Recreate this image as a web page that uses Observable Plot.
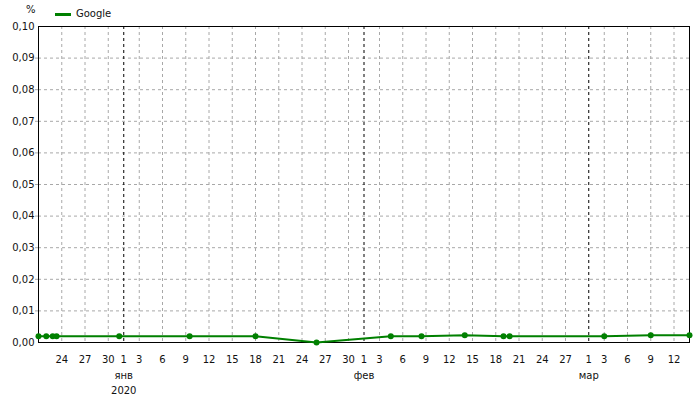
<!DOCTYPE html>
<html>
<head>
<meta charset="utf-8">
<script src="https://cdn.jsdelivr.net/npm/d3@7"></script>
<script src="https://cdn.jsdelivr.net/npm/@observablehq/plot@0.6"></script>
<style>
  body { margin: 0; background: #fff; }
  #wrap { position: relative; width: 700px; height: 400px; font-family: "DejaVu Sans", Verdana, sans-serif; font-size: 10px; color: #111; }
  #chart { position: absolute; left: 0; top: 0; }
  .lg { position: absolute; white-space: nowrap; }
</style>
</head>
<body>
<div id="wrap">
  <div id="chart"></div>
  <div class="lg" style="left:26px; top:4px;">%</div>
  <div class="lg" style="left:55px; top:13px; width:16px; height:3px; background:#008000;"></div>
  <div class="lg" style="left:76px; top:8px;">Google</div>
</div>
<script>
// Data
const dates = [
  "2019-12-21T00:00Z", "2019-12-22T00:00Z", "2019-12-22T20:00Z", "2019-12-23T08:00Z",
  "2019-12-31T10:00Z", "2020-01-09T12:00Z", "2020-01-18T00:00Z", "2020-01-25T21:00Z",
  "2020-02-04T11:00Z", "2020-02-08T10:00Z", "2020-02-14T00:00Z", "2020-02-19T00:00Z",
  "2020-02-19T19:00Z", "2020-03-03T00:00Z", "2020-03-09T00:00Z", "2020-03-14T00:00Z"
];
const google = [
  0.002, 0.002, 0.002, 0.002,
  0.002, 0.002, 0.002, 0.0,
  0.002, 0.002, 0.0023, 0.002,
  0.002, 0.002, 0.0023, 0.0023
];
const seriesName = "Google";
const domainStart = new Date("2019-12-21T00:00Z");
const domainEnd = new Date("2020-03-14T00:00Z");
const monthStarts = ["2020-01-01T00:00Z", "2020-02-01T00:00Z", "2020-03-01T00:00Z"];
const monthLabels = ["янв", "фев", "мар"];
const yearLabel = "2020";
const yTicks = [0, 0.01, 0.02, 0.03, 0.04, 0.05, 0.06, 0.07, 0.08, 0.09, 0.10];

const rows = dates.map((d, i) => ({date: new Date(d), value: google[i], series: seriesName}));
const months = monthStarts.map((d, i) => ({date: new Date(d), label: monthLabels[i]}));
const monthTimes = new Set(months.map(m => +m.date));
const xTicks = d3.utcDay.range(domainStart, d3.utcDay.offset(domainEnd, 1))
  .filter(d => d > domainStart && (d.getUTCDate() % 3 === 0 || d.getUTCDate() === 1));
const grayTicks = xTicks.filter(d => !monthTimes.has(+d));
const fmtY = v => v.toFixed(2).replace(".", ",");

const chart = Plot.plot({
  width: 700,
  height: 400,
  marginLeft: 38,
  marginRight: 11,
  marginTop: 26,
  marginBottom: 58,
  style: {fontFamily: "DejaVu Sans, Verdana, sans-serif", fontSize: "10px", color: "#111", background: "white"},
  x: {type: "utc", domain: [domainStart, domainEnd], axis: null},
  y: {domain: [0, 0.1], axis: null, label: null},
  marks: [
    Plot.ruleY(yTicks.slice(1, -1), {stroke: "#a8a8a8", strokeDasharray: "3,3"}),
    Plot.ruleX(grayTicks, {stroke: "#a8a8a8", strokeDasharray: "3,3"}),
    Plot.ruleX(months, {x: "date", stroke: "black", strokeDasharray: "3,3"}),
    Plot.axisY({ticks: yTicks.slice(1, -1), tickSize: 3, tickFormat: () => "", label: null, stroke: "#a8a8a8"}),
    Plot.frame({stroke: "black"}),
    Plot.line(rows, {x: "date", y: "value", stroke: "#008000", strokeWidth: 2}),
    Plot.dot(rows, {x: "date", y: "value", fill: "#008000", r: 3}),
    Plot.text(yTicks, {y: d => d, text: fmtY, frameAnchor: "left", textAnchor: "end", dx: -4, fill: "#111"}),
    Plot.text(xTicks, {x: d => d, text: d => String(d.getUTCDate()), frameAnchor: "bottom", lineAnchor: "middle", dy: 17, fill: "#111"}),
    Plot.text(months, {x: "date", text: "label", frameAnchor: "bottom", lineAnchor: "middle", dy: 33, fill: "#111"}),
    Plot.text([months[0]], {x: "date", text: () => yearLabel, frameAnchor: "bottom", lineAnchor: "middle", dy: 48, fill: "#111"})
  ]
});
document.getElementById("chart").appendChild(chart);
</script>
</body>
</html>
